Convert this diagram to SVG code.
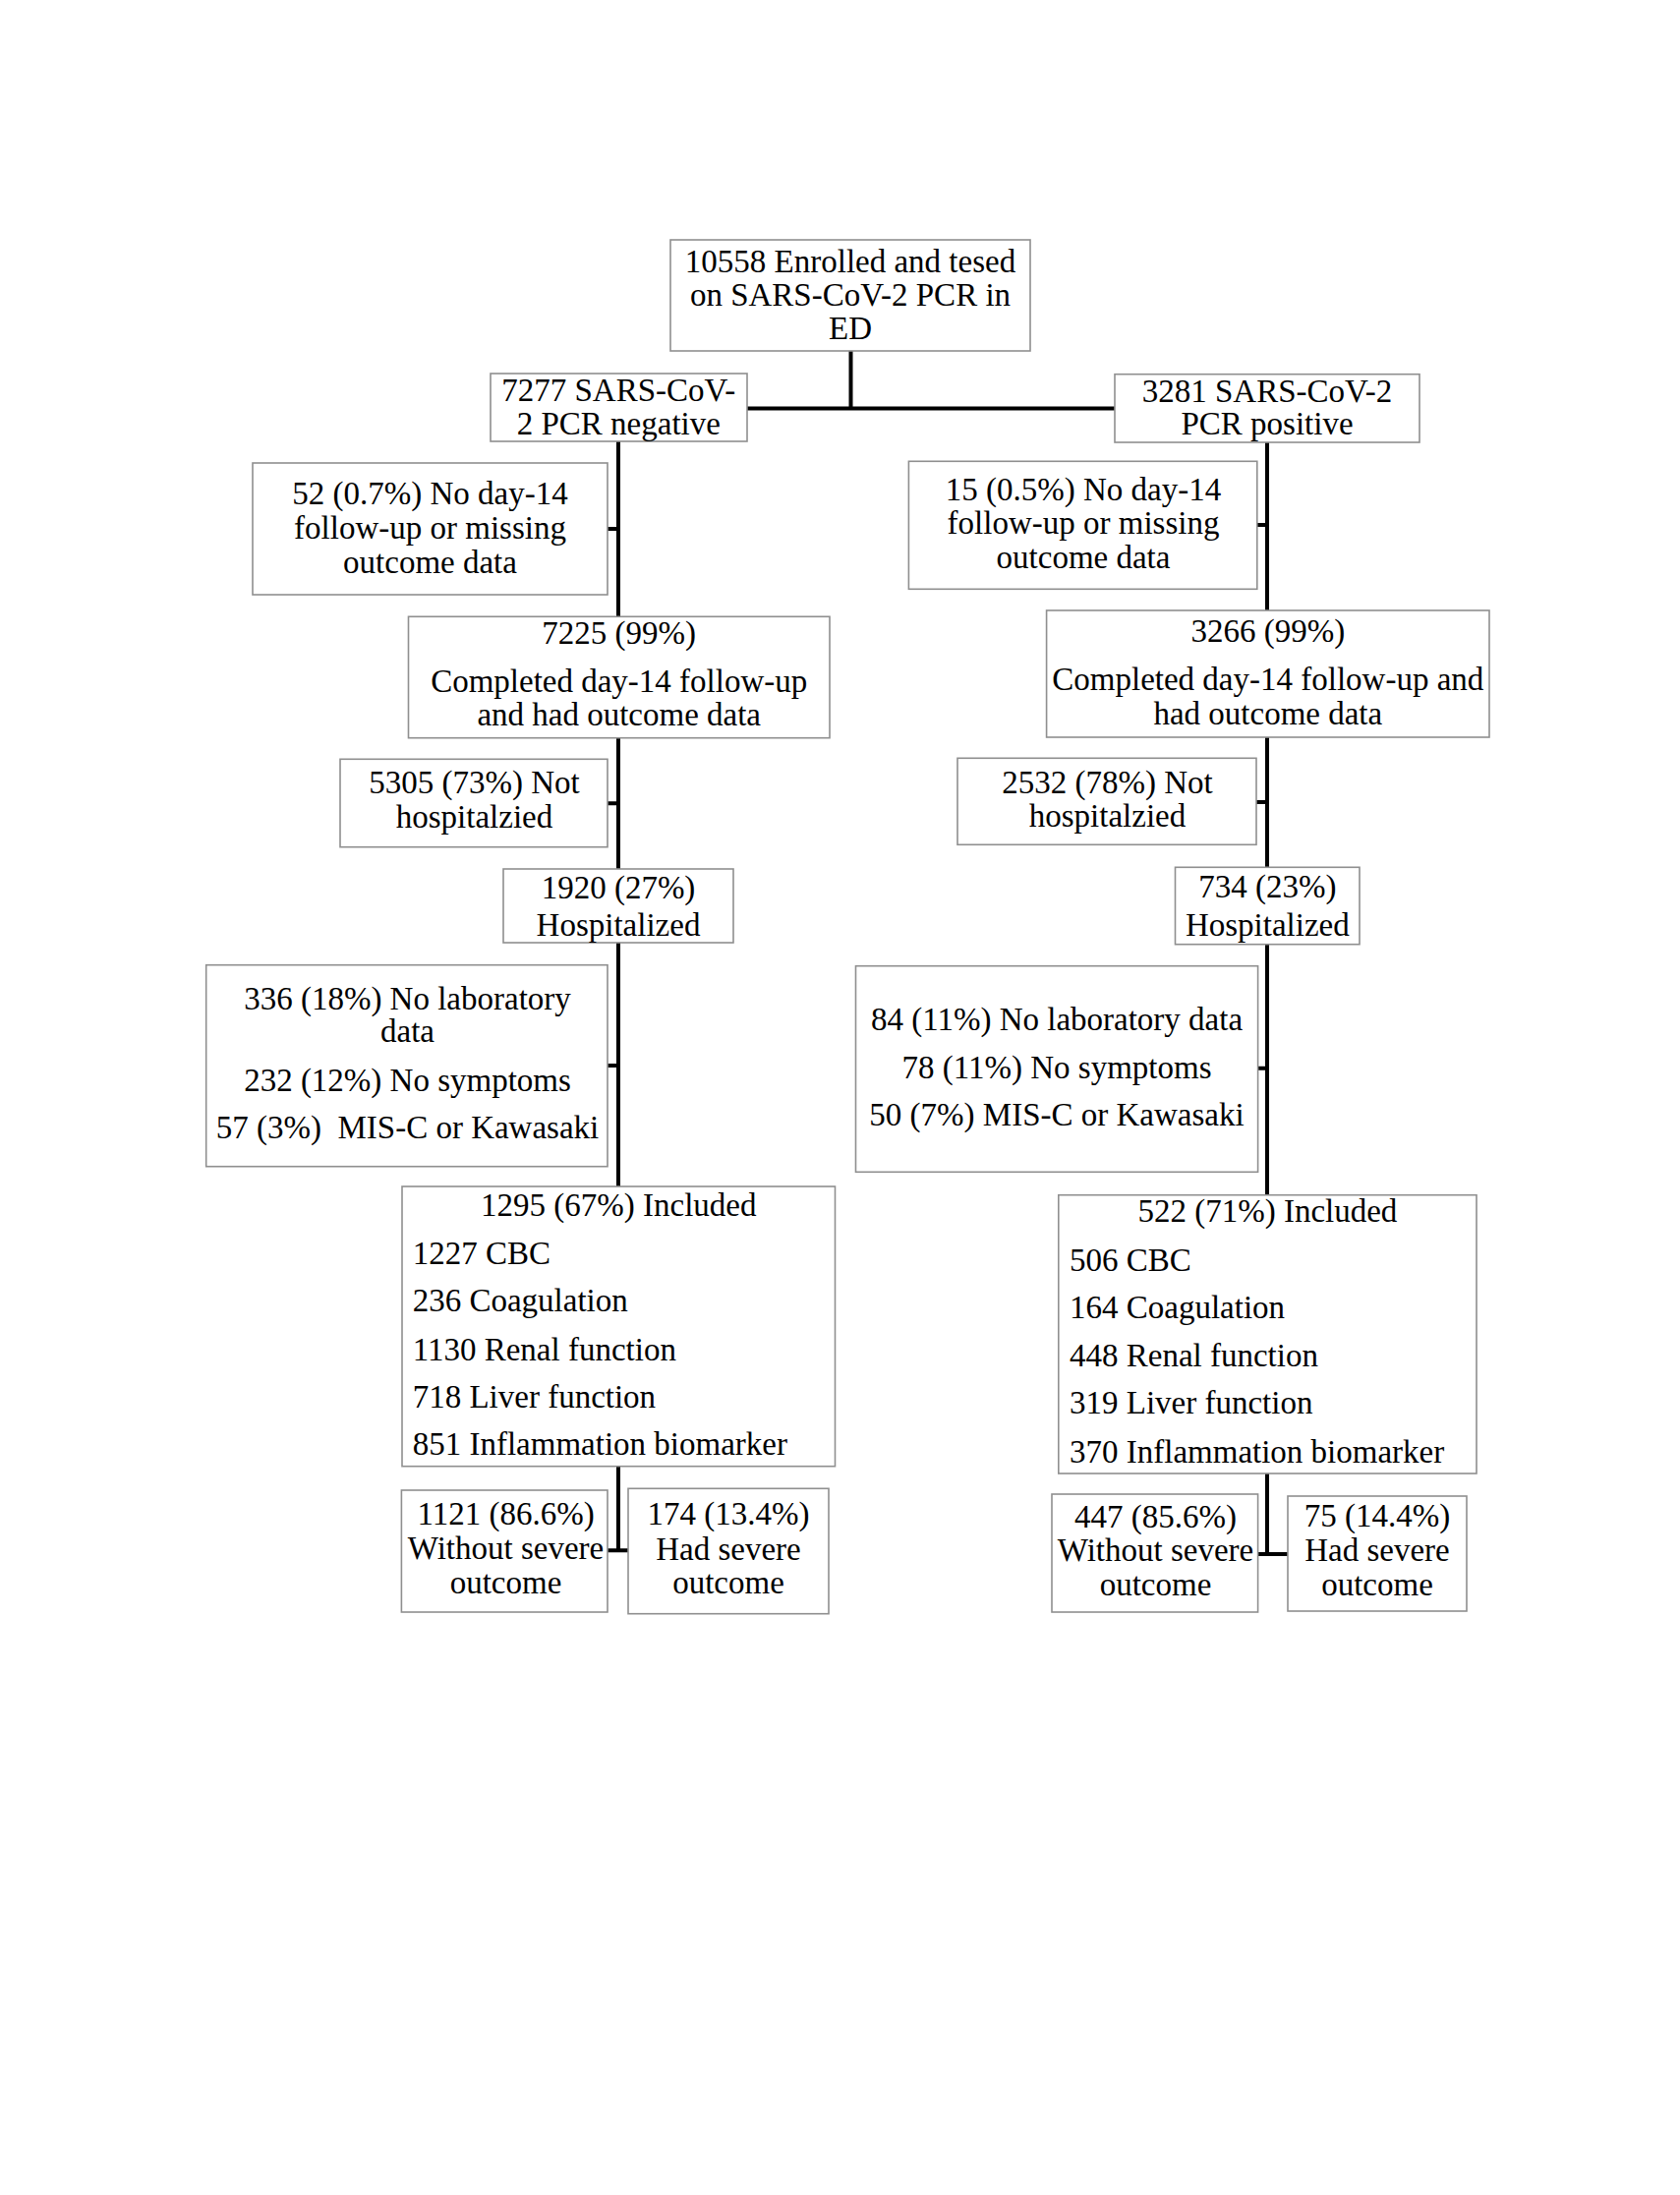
<svg xmlns="http://www.w3.org/2000/svg" width="1709" height="2233" viewBox="0 0 1709 2233">
<style>
.box{fill:#ffffff;stroke:#8f8f8f;stroke-width:1.6}
.t{font-family:"Liberation Serif","Times New Roman",serif;font-size:33px;fill:#000000}
.c{text-anchor:middle}
.l{text-anchor:start}
.ln{stroke:#000000;stroke-width:4;fill:none}
</style>
<rect x="0" y="0" width="1709" height="2233" fill="#ffffff"/>
<g id="connectors">
<path class="ln" d="M865.5,357 V415.5 M760,415.5 H1134"/>
<path class="ln" d="M629,449 V627 M629,750.7 V884 M629,959 V1207 M629,1491.7 V1577.3"/>
<path class="ln" d="M618,538 H629 M618,817.3 H629 M618,1084 H629 M618,1577.3 H639"/>
<path class="ln" d="M1289,450 V621 M1289,750 V882.3 M1289,960.7 V1215.7 M1289,1499 V1581"/>
<path class="ln" d="M1279,534 H1289 M1278,816 H1289 M1279.6,1086.7 H1289 M1279.6,1581 H1310"/>
</g>
<g id="n_enrolled">
<rect class="box" x="682" y="244" width="366" height="113"/>
<text class="t c" x="865" y="276.7">10558 Enrolled and tesed</text>
<text class="t c" x="865" y="311">on SARS-CoV-2 PCR in</text>
<text class="t c" x="865" y="345">ED</text>
</g>
<g id="n_negative">
<rect class="box" x="499" y="380" width="261" height="69"/>
<text class="t c" x="629.3" y="408.3">7277 SARS-CoV-</text>
<text class="t c" x="629.3" y="442.3">2 PCR negative</text>
</g>
<g id="n_positive">
<rect class="box" x="1134" y="380.7" width="310" height="69.3"/>
<text class="t c" x="1289" y="409">3281 SARS-CoV-2</text>
<text class="t c" x="1289" y="442">PCR positive</text>
</g>
<g id="n_neg_missing">
<rect class="box" x="257" y="471" width="361" height="134"/>
<text class="t c" x="437.5" y="513.3">52 (0.7%) No day-14</text>
<text class="t c" x="437.5" y="548.3">follow-up or missing</text>
<text class="t c" x="437.5" y="582.7">outcome data</text>
</g>
<g id="n_pos_missing">
<rect class="box" x="924.4" y="469.3" width="354.4" height="130"/>
<text class="t c" x="1102" y="509.3">15 (0.5%) No day-14</text>
<text class="t c" x="1102" y="543.3">follow-up or missing</text>
<text class="t c" x="1102" y="578.3">outcome data</text>
</g>
<g id="n_neg_completed">
<rect class="box" x="415.5" y="627.3" width="428.5" height="123.4"/>
<text class="t c" x="629.7" y="655">7225 (99%)</text>
<text class="t c" x="629.7" y="704.3">Completed day-14 follow-up</text>
<text class="t c" x="629.7" y="738.3">and had outcome data</text>
</g>
<g id="n_pos_completed">
<rect class="box" x="1064.6" y="621" width="450.4" height="129"/>
<text class="t c" x="1289.8" y="653.3">3266 (99%)</text>
<text class="t c" x="1289.8" y="701.7">Completed day-14 follow-up and</text>
<text class="t c" x="1289.8" y="736.7">had outcome data</text>
</g>
<g id="n_neg_nothosp">
<rect class="box" x="346" y="772.3" width="272" height="89.4"/>
<text class="t c" x="482.5" y="807.3">5305 (73%) Not</text>
<text class="t c" x="482.5" y="842.3">hospitalzied</text>
</g>
<g id="n_pos_nothosp">
<rect class="box" x="974" y="771.3" width="304" height="88"/>
<text class="t c" x="1126.5" y="806.7">2532 (78%) Not</text>
<text class="t c" x="1126.5" y="840.7">hospitalzied</text>
</g>
<g id="n_neg_hosp">
<rect class="box" x="512" y="884" width="234" height="75"/>
<text class="t c" x="629" y="914.3">1920 (27%)</text>
<text class="t c" x="629" y="951.7">Hospitalized</text>
</g>
<g id="n_pos_hosp">
<rect class="box" x="1195.5" y="882.3" width="187.5" height="78.4"/>
<text class="t c" x="1289.3" y="913.3">734 (23%)</text>
<text class="t c" x="1289.3" y="951.7">Hospitalized</text>
</g>
<g id="n_neg_excluded">
<rect class="box" x="209.7" y="981.7" width="408.3" height="205"/>
<text class="t c" x="414.5" y="1027.3">336 (18%) No laboratory</text>
<text class="t c" x="414.5" y="1060">data</text>
<text class="t c" x="414.5" y="1110">232 (12%) No symptoms</text>
<text class="t c" x="414.5" y="1158.3" style="white-space:pre">57 (3%)  MIS-C or Kawasaki</text>
</g>
<g id="n_pos_excluded">
<rect class="box" x="870.5" y="982.7" width="409.1" height="209.6"/>
<text class="t c" x="1075" y="1048.3">84 (11%) No laboratory data</text>
<text class="t c" x="1075" y="1096.7">78 (11%) No symptoms</text>
<text class="t c" x="1075" y="1145">50 (7%) MIS-C or Kawasaki</text>
</g>
<g id="n_neg_included">
<rect class="box" x="409" y="1207" width="440.5" height="284.7"/>
<text class="t c" x="629.3" y="1237.3">1295 (67%) Included</text>
<text class="t l" x="419.7" y="1286">1227 CBC</text>
<text class="t l" x="419.7" y="1334.3">236 Coagulation</text>
<text class="t l" x="419.7" y="1384">1130 Renal function</text>
<text class="t l" x="419.7" y="1431.7">718 Liver function</text>
<text class="t l" x="419.7" y="1480">851 Inflammation biomarker</text>
</g>
<g id="n_pos_included">
<rect class="box" x="1076.8" y="1215.7" width="425.2" height="283.3"/>
<text class="t c" x="1289.4" y="1243.3">522 (71%) Included</text>
<text class="t l" x="1088" y="1293.3">506 CBC</text>
<text class="t l" x="1088" y="1341">164 Coagulation</text>
<text class="t l" x="1088" y="1390">448 Renal function</text>
<text class="t l" x="1088" y="1438.3">319 Liver function</text>
<text class="t l" x="1088" y="1487.7">370 Inflammation biomarker</text>
</g>
<g id="n_neg_nonsevere">
<rect class="box" x="408.4" y="1516" width="209.6" height="124"/>
<text class="t c" x="514.5" y="1550.7">1121 (86.6%)</text>
<text class="t c" x="514.5" y="1585.7">Without severe</text>
<text class="t c" x="514.5" y="1620.7">outcome</text>
</g>
<g id="n_neg_severe">
<rect class="box" x="639" y="1514.3" width="204" height="127.4"/>
<text class="t c" x="741" y="1550.7">174 (13.4%)</text>
<text class="t c" x="741" y="1586.7">Had severe</text>
<text class="t c" x="741" y="1620.7">outcome</text>
</g>
<g id="n_pos_nonsevere">
<rect class="box" x="1070" y="1520" width="209.6" height="120"/>
<text class="t c" x="1175.5" y="1554.3">447 (85.6%)</text>
<text class="t c" x="1175.5" y="1588.3">Without severe</text>
<text class="t c" x="1175.5" y="1622.7">outcome</text>
</g>
<g id="n_pos_severe">
<rect class="box" x="1310" y="1522" width="182" height="117"/>
<text class="t c" x="1401" y="1553.3">75 (14.4%)</text>
<text class="t c" x="1401" y="1588.3">Had severe</text>
<text class="t c" x="1401" y="1622.7">outcome</text>
</g>
</svg>
